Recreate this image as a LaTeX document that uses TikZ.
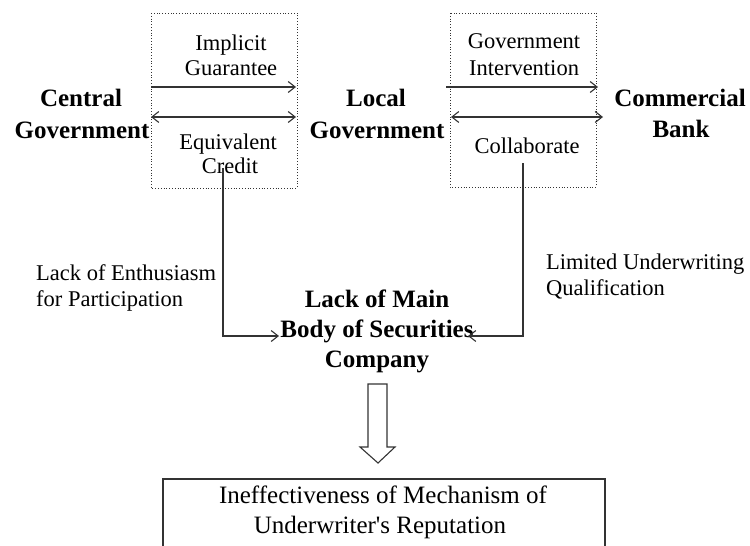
\documentclass[tikz,border=0pt]{standalone}
\usepackage{fontspec}
\setmainfont{Liberation Serif}
\usetikzlibrary{arrows.meta,shapes.arrows}
\begin{document}
\begin{tikzpicture}[x=1pt,y=-1pt,
  bigb/.style={font=\fontsize{25}{30}\selectfont\bfseries,inner sep=0pt,anchor=base},
  lbl/.style={font=\fontsize{22.5}{26}\selectfont,inner sep=0pt,anchor=base},
  lblL/.style={lbl,anchor=base west},
  bot/.style={font=\fontsize{25}{30}\selectfont,inner sep=0pt,anchor=base},
  dotbox/.style={draw=black!80,dotted,line width=0.8pt},
  conn/.style={draw=black!80,line width=1.2pt,-{Straight Barb[length=7pt,width=11pt,line width=1.1pt]}},
  dconn/.style={draw=black!80,line width=1.2pt,{Straight Barb[length=7pt,width=11pt,line width=1.1pt]}-{Straight Barb[length=7pt,width=11pt,line width=1.1pt]}}]
\useasboundingbox (0,0) rectangle (750,546);
% dotted boxes
\draw[dotbox] (151,13) rectangle (297,188);
\draw[dotbox] (450,13) rectangle (596,187);
% actor texts
\node[bigb] (cg1) at (81,106) {Central};
\node[bigb] (cg2) at (82,138) {Government};
\node[bigb] (lg1) at (376,106) {Local};
\node[bigb] (lg2) at (377,138) {Government};
\node[bigb] (cb1) at (680,106) {Commercial};
\node[bigb] (cb2) at (681,137) {Bank};
% labels in boxes
\node[lbl] (ig1) at (231,50) {Implicit};
\node[lbl] (ig2) at (231,75) {Guarantee};
\node[lbl] (ec1) at (228,149) {Equivalent};
\node[lbl] (ec2) at (230,173) {Credit};
\node[lbl] (gi1) at (524,48) {Government};
\node[lbl] (gi2) at (524,75) {Intervention};
\node[lbl] (co) at (527,153) {Collaborate};
% side labels
\node[lblL] (le1) at (36,280) {Lack of Enthusiasm};
\node[lblL] (le2) at (36,306) {for Participation};
\node[lblL] (lu1) at (546,269) {Limited Underwriting};
\node[lblL] (lu2) at (546,295) {Qualification};
% main company text
\node[bigb] (lm1) at (377,307) {Lack of Main};
\node[bigb] (lm2) at (377,337) {Body of Securities};
\node[bigb] (lm3) at (377,367) {Company};
% coordinates for connectors
\coordinate (a1s) at (151,87); \coordinate (a1e) at (296,87);
\coordinate (a2s) at (151,117); \coordinate (a2e) at (296,117);
\coordinate (b1s) at (446,87); \coordinate (b1e) at (598,87);
\coordinate (b2s) at (451,117); \coordinate (b2e) at (603,117);
\coordinate (ls) at (223,168); \coordinate (lc) at (223,336); \coordinate (le) at (279,336);
\coordinate (rs) at (523,163); \coordinate (rc) at (523,336); \coordinate (re) at (468,336);
\draw[conn] (a1s) -- (a1e);
\draw[dconn] (a2s) -- (a2e);
\draw[conn] (b1s) -- (b1e);
\draw[dconn] (b2s) -- (b2e);
\draw[conn] (ls) -- (lc) -- (le);
\draw[conn] (rs) -- (rc) -- (re);
% hollow arrow
\draw[draw=black!80,line width=1.1pt,fill=white] (368,384) -- (387,384) -- (387,447) -- (395,447) -- (378,463) -- (360,447) -- (368,447) -- cycle;
% bottom box
\draw[draw=black!80,line width=1.3pt] (163,548) -- (163,479) -- (605,479) -- (605,548);
\node[bot] (bx1) at (383,503) {Ineffectiveness of Mechanism of};
\node[bot] (bx2) at (380,533) {Underwriter\textquotesingle s Reputation};
\end{tikzpicture}
\end{document}
